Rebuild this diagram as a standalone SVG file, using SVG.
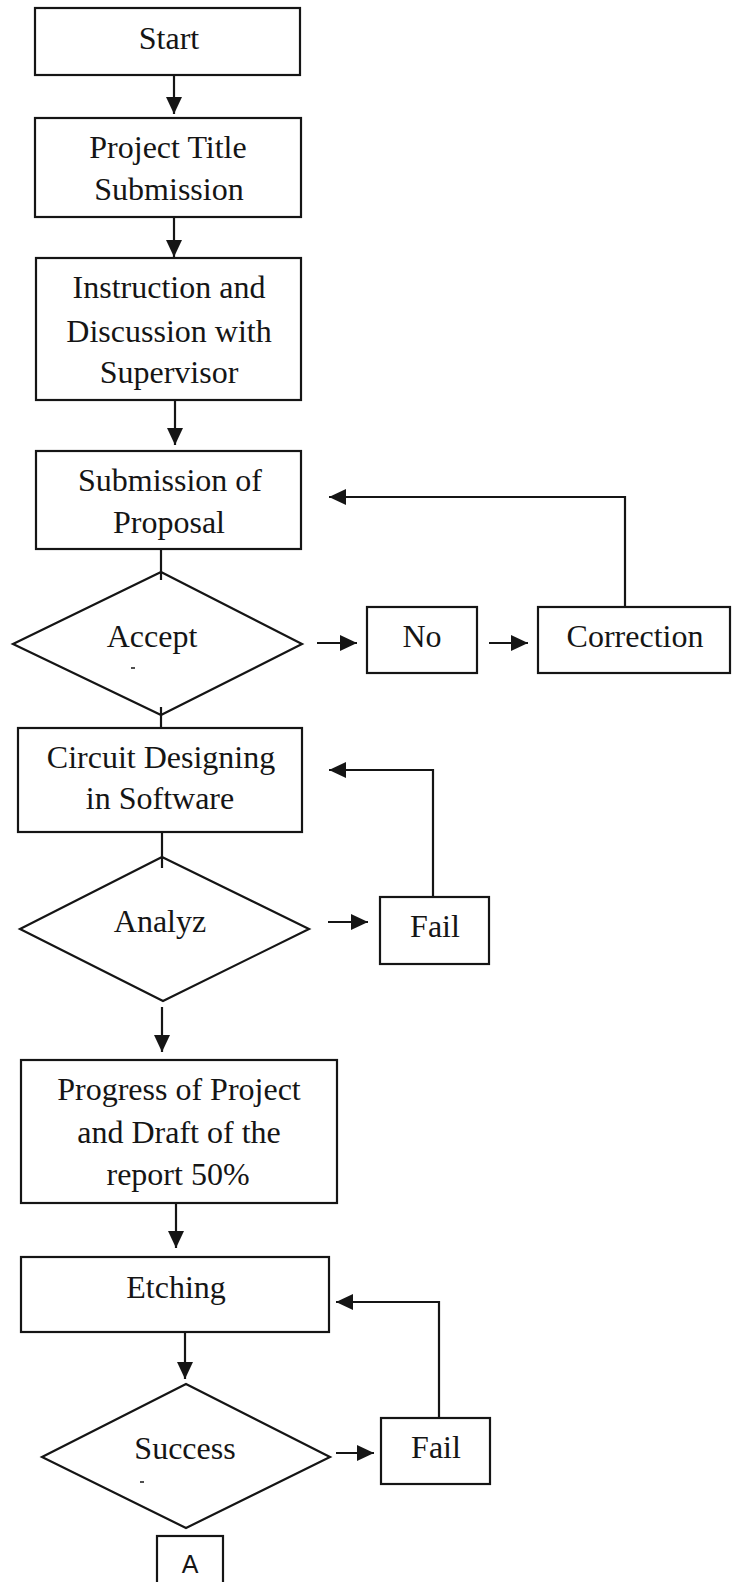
<svg xmlns="http://www.w3.org/2000/svg" width="732" height="1582" viewBox="0 0 732 1582">
<style>
.box{fill:#fff;stroke:#151515;stroke-width:2.2}
.t{font-family:"Liberation Serif","Times New Roman",serif;font-size:32px;fill:#151515;text-anchor:middle}
.ts{font-family:"Liberation Sans",Arial,sans-serif;font-size:25px;fill:#151515;text-anchor:middle}
.c{fill:none;stroke:#151515;stroke-width:2.2}
.m{stroke:#151515;stroke-width:1.5}
</style>
<defs>
<marker id="ah" markerUnits="userSpaceOnUse" markerWidth="17" markerHeight="16" viewBox="0 0 17 16" refX="17" refY="8" orient="auto">
<path d="M0,0 L17,8 L0,16 z" fill="#151515"/>
</marker>
</defs>
<rect width="732" height="1582" fill="#fff"/>
<g id="start"><rect class="box" x="35" y="8" width="265" height="67"/><text class="t" x="169" y="49">Start</text></g>
<g id="title"><rect class="box" x="35" y="118" width="266" height="99"/><text class="t" x="168" y="158">Project Title</text><text class="t" x="169" y="200">Submission</text></g>
<g id="instruction"><rect class="box" x="36" y="258" width="265" height="142"/><text class="t" x="169" y="298">Instruction and</text><text class="t" x="169" y="342">Discussion with</text><text class="t" x="169" y="383">Supervisor</text></g>
<g id="proposal"><rect class="box" x="36" y="451" width="265" height="98"/><text class="t" x="170" y="491">Submission of</text><text class="t" x="169" y="533">Proposal</text></g>
<g id="accept"><polygon class="box" points="161,572 302,644 161,715 13,644"/><text class="t" x="152" y="647">Accept</text><line class="m" x1="131" y1="668" x2="135" y2="668"/></g>
<g id="no"><rect class="box" x="367" y="607" width="110" height="66"/><text class="t" x="422" y="647">No</text></g>
<g id="correction"><rect class="box" x="538" y="607" width="192" height="66"/><text class="t" x="635" y="647">Correction</text></g>
<g id="circuit"><rect class="box" x="18" y="728" width="284" height="104"/><text class="t" x="161" y="768">Circuit Designing</text><text class="t" x="160" y="809">in Software</text></g>
<g id="analyz"><polygon class="box" points="162,857 309,929 163,1001 20,929"/><text class="t" x="160" y="932">Analyz</text></g>
<g id="fail1"><rect class="box" x="380" y="897" width="109" height="67"/><text class="t" x="435" y="937">Fail</text></g>
<g id="progress"><rect class="box" x="21" y="1060" width="316" height="143"/><text class="t" x="179" y="1100">Progress of Project</text><text class="t" x="179" y="1143">and Draft of the</text><text class="t" x="178" y="1185">report 50%</text></g>
<g id="etching"><rect class="box" x="21" y="1257" width="308" height="75"/><text class="t" x="176" y="1298">Etching</text></g>
<g id="success"><polygon class="box" points="186,1384 330,1457 186,1528 42,1457"/><text class="t" x="185" y="1459">Success</text><line class="m" x1="140" y1="1482" x2="144" y2="1482"/></g>
<g id="fail2"><rect class="box" x="381" y="1418" width="109" height="66"/><text class="t" x="436" y="1458">Fail</text></g>
<g id="a"><rect class="box" x="157" y="1536" width="66" height="60"/><text class="ts" x="190" y="1573">A</text></g>
<g id="connectors">
<line class="c" x1="174" y1="75" x2="174" y2="114" marker-end="url(#ah)"/>
<line class="c" x1="174" y1="217" x2="174" y2="257" marker-end="url(#ah)"/>
<line class="c" x1="175" y1="400" x2="175" y2="445" marker-end="url(#ah)"/>
<line class="c" x1="161" y1="549" x2="161" y2="580"/>
<line class="c" x1="317" y1="643" x2="357" y2="643" marker-end="url(#ah)"/>
<line class="c" x1="489" y1="643" x2="528" y2="643" marker-end="url(#ah)"/>
<polyline class="c" points="625,607 625,497 329,497" marker-end="url(#ah)"/>
<line class="c" x1="161" y1="707" x2="161" y2="728"/>
<line class="c" x1="162" y1="832" x2="162" y2="868"/>
<line class="c" x1="328" y1="922" x2="368" y2="922" marker-end="url(#ah)"/>
<polyline class="c" points="433,897 433,770 329,770" marker-end="url(#ah)"/>
<line class="c" x1="162" y1="1007" x2="162" y2="1052" marker-end="url(#ah)"/>
<line class="c" x1="176" y1="1203" x2="176" y2="1248" marker-end="url(#ah)"/>
<polyline class="c" points="439,1418 439,1302 336,1302" marker-end="url(#ah)"/>
<line class="c" x1="185" y1="1332" x2="185" y2="1379" marker-end="url(#ah)"/>
<line class="c" x1="336" y1="1453" x2="374" y2="1453" marker-end="url(#ah)"/>
</g>
</svg>
